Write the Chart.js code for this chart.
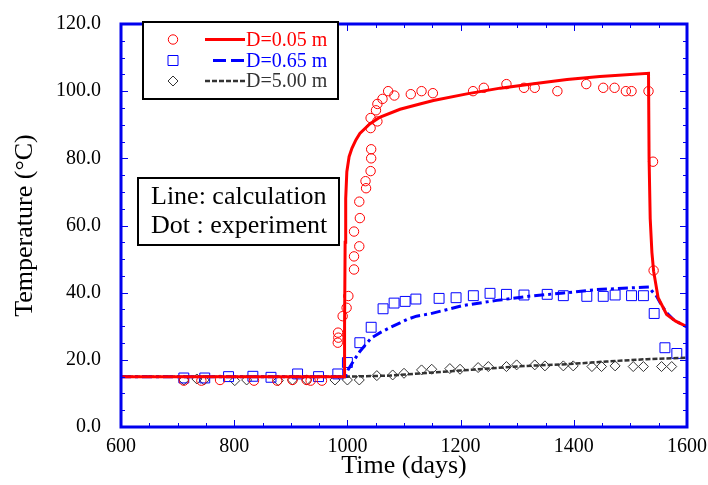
<!DOCTYPE html>
<html>
<head>
<meta charset="utf-8">
<script src="https://cdn.jsdelivr.net/npm/chart.js@4.4.0/dist/chart.umd.min.js"></script>
<style>
  html, body { margin: 0; padding: 0; background: #fff; }
</style>
</head>
<body>
<canvas id="tempChart" width="708" height="485"></canvas>
<script>
// axis ticks
const xTicks = [600, 800, 1000, 1200, 1400, 1600];
const yTicks = [0, 20, 40, 60, 80, 100, 120];

const seriesNames = ['D=0.05 m', 'D=0.65 m', 'D=5.00 m'];
const noteLines = ['Line: calculation', 'Dot : experiment'];

// calculation, D=0.05 m
const calcDays05 = [600, 994, 995, 996, 997, 999, 1003, 1008, 1015, 1022, 1040, 1058, 1093, 1128, 1152, 1211, 1270, 1329, 1388, 1446, 1532, 1533, 1535, 1538, 1541, 1549, 1564, 1580, 1596, 1600];
const calcTemp05 = [15, 15, 30, 55, 68, 76, 80.5, 83, 85.5, 87.4, 90.3, 92.3, 94.6, 96.2, 97.2, 99.2, 100.9, 102.2, 103.5, 104.4, 105.3, 80, 62, 52, 46.4, 38.5, 33.5, 31.5, 30.2, 29.8];

// calculation, D=0.65 m
const calcDays65 = [600, 996, 1001, 1013, 1022, 1031, 1043, 1058, 1075, 1093, 1105, 1122, 1146, 1205, 1264, 1323, 1382, 1440, 1523, 1533, 1538, 1546, 1555, 1564, 1576, 1590, 1600];
const calcTemp65 = [15, 15, 17, 20.2, 22.5, 24.3, 26.6, 28.1, 29.6, 31.0, 32.0, 33.0, 33.7, 36.2, 37.7, 39.0, 39.9, 40.9, 41.6, 41.7, 40.5, 39.0, 36.3, 34.0, 32.0, 30.6, 29.8];

// calculation, D=5.00 m
const calcDays500 = [600, 1000, 1075, 1150, 1200, 1255, 1317, 1388, 1458, 1529, 1600];
const calcTemp500 = [15, 15, 15.3, 16.2, 16.8, 17.5, 18.2, 18.7, 19.5, 20.2, 20.6];

// experiment, D=0.05 m
const expDays05 = [711, 742, 775, 835, 876, 903, 928, 935, 955, 983, 984, 983.5, 991.6, 998.6, 1001.7, 1011.7, 1011.7, 1021, 1011.7, 1022, 1021, 1033, 1032, 1041, 1042, 1042, 1041, 1041, 1053, 1050.5, 1053, 1062, 1072, 1083, 1112, 1131, 1151, 1222, 1241, 1281, 1312, 1331, 1371, 1422, 1452, 1472, 1492, 1502, 1532, 1540, 1541];
const expTemp05 = [13.8, 13.8, 14, 13.8, 13.8, 14, 14, 13.8, 13.8, 25.1, 26.6, 28.1, 33.0, 35.5, 39.0, 46.9, 50.8, 53.8, 58.2, 62.2, 67.1, 71.1, 73.2, 76.2, 80.0, 82.7, 89.0, 92.0, 91.0, 94.3, 96.2, 97.7, 100.0, 98.7, 99.1, 100, 99.4, 100, 101, 102.1, 101, 101, 100, 102.1, 101, 101, 100, 100, 100, 79, 46.6];

// experiment, D=0.65 m
const expDays65 = [711, 748, 790, 833, 865, 912, 949, 983, 1000, 1022, 1042, 1063, 1082.5, 1102, 1121, 1162, 1192, 1222.5, 1252, 1281, 1312, 1353, 1381.5, 1423, 1452, 1473, 1502, 1523, 1542, 1561, 1582];
const expTemp65 = [14.6, 14.6, 15.0, 15.1, 14.8, 15.8, 15.0, 15.8, 19.2, 25.1, 29.7, 35.2, 36.9, 37.4, 38.1, 38.3, 38.5, 39.1, 39.8, 39.5, 39.3, 39.5, 39.1, 38.9, 38.9, 39.3, 39.1, 39.1, 33.8, 23.6, 21.9];

// experiment, D=5.00 m
const expDays500 = [711, 734, 747, 801, 822, 878, 903, 928, 978, 1000, 1021, 1052, 1080, 1100, 1131, 1149, 1181, 1199, 1231, 1249, 1281, 1299, 1331, 1349, 1381.5, 1399, 1432, 1449, 1473, 1505, 1523, 1555, 1573];
const expTemp500 = [14.0, 14.3, 14.0, 13.8, 14.0, 13.8, 14.0, 14.0, 14.0, 14.0, 14.0, 15.3, 15.5, 16.0, 17.0, 17.2, 17.4, 17.2, 17.7, 18.0, 18.0, 18.5, 18.5, 18.2, 18.2, 18.2, 18.0, 18.0, 18.2, 18.0, 18.0, 18.0, 18.0];

const RED = '#ff0000';
const BLUE = '#0000ff';
const DARK = '#333333';
const AXIS_BLUE = '#0000ee';
const SERIF = '"Liberation Serif", "Times New Roman", serif';

function pts(xs, ys) {
    return xs.map((x, i) => ({ x: x, y: ys[i] }));
}

// frame with inward ticks, legend box and note box
const framePlugin = {
    id: 'framePlugin',
    afterDraw(chart) {
        const ctx = chart.ctx;
        const a = chart.chartArea;
        const xs = chart.scales.x;
        const ys = chart.scales.y;
        ctx.save();

        ctx.strokeStyle = AXIS_BLUE;
        ctx.lineWidth = 1;
        ctx.beginPath();
        for (let d = xs.min; d <= xs.max; d += 50) {
            const px = Math.round(xs.getPixelForValue(d)) + 0.5;
            const len = d % 200 === 0 ? 7 : 4;
            ctx.moveTo(px, a.bottom); ctx.lineTo(px, a.bottom - len);
            ctx.moveTo(px, a.top); ctx.lineTo(px, a.top + len);
        }
        for (let t = ys.min; t <= ys.max; t += 5) {
            const py = Math.round(ys.getPixelForValue(t)) + 0.5;
            const len = t % 20 === 0 ? 7 : 4;
            ctx.moveTo(a.left, py); ctx.lineTo(a.left + len, py);
            ctx.moveTo(a.right, py); ctx.lineTo(a.right - len, py);
        }
        ctx.stroke();

        ctx.lineWidth = 3;
        ctx.strokeRect(a.left, a.top, a.right - a.left, a.bottom - a.top);

        // legend
        ctx.fillStyle = '#fff';
        ctx.fillRect(143, 22, 195, 77);
        ctx.strokeStyle = '#000';
        ctx.lineWidth = 2;
        ctx.strokeRect(143, 22, 195, 77);

        const rows = [39.5, 60.5, 81];
        const colors = [RED, BLUE, DARK];
        const dashes = [[], [13, 5], [5, 2]];
        ctx.font = '20px ' + SERIF;
        ctx.textBaseline = 'middle';
        ctx.textAlign = 'left';
        rows.forEach((y, i) => {
            const mx = 173;
            ctx.lineWidth = 1;
            ctx.strokeStyle = colors[i];
            ctx.setLineDash([]);
            ctx.beginPath();
            if (i === 0) {
                ctx.arc(mx, y, 4.7, 0, Math.PI * 2);
            } else if (i === 1) {
                ctx.rect(mx - 5, y - 5, 10, 10);
            } else {
                ctx.moveTo(mx, y - 5); ctx.lineTo(mx + 5, y);
                ctx.lineTo(mx, y + 5); ctx.lineTo(mx - 5, y);
                ctx.closePath();
            }
            ctx.stroke();

            ctx.lineWidth = i === 2 ? 2.5 : 3;
            ctx.setLineDash(dashes[i]);
            ctx.beginPath();
            ctx.moveTo(i === 1 ? 213 : 205, y);
            ctx.lineTo(245, y);
            ctx.stroke();
            ctx.setLineDash([]);

            ctx.fillStyle = colors[i];
            ctx.fillText(seriesNames[i], 246, y + 1);
        });

        // note box
        ctx.fillStyle = '#fff';
        ctx.fillRect(138, 178, 201, 67);
        ctx.strokeStyle = '#000';
        ctx.lineWidth = 2;
        ctx.strokeRect(138, 178, 201, 67);
        ctx.fillStyle = '#000';
        ctx.font = '26px ' + SERIF;
        ctx.fillText(noteLines[0], 151, 197);
        ctx.fillText(noteLines[1], 151, 226);

        ctx.restore();
    }
};

new Chart(document.getElementById('tempChart'), {
    type: 'scatter',
    data: {
        datasets: [{
            label: seriesNames[0] + ' calc',
            data: pts(calcDays05, calcTemp05),
            showLine: true,
            borderColor: RED,
            borderWidth: 3,
            pointRadius: 0,
            tension: 0
        }, {
            label: seriesNames[1] + ' calc',
            data: pts(calcDays65, calcTemp65),
            showLine: true,
            borderColor: BLUE,
            borderWidth: 3,
            borderDash: [10, 4, 3, 4],
            pointRadius: 0,
            tension: 0
        }, {
            label: seriesNames[2] + ' calc',
            data: pts(calcDays500, calcTemp500),
            showLine: true,
            borderColor: DARK,
            borderWidth: 2.5,
            borderDash: [5, 2],
            pointRadius: 0,
            tension: 0
        }, {
            label: seriesNames[0],
            data: pts(expDays05, expTemp05),
            pointStyle: 'circle',
            pointRadius: 4.7,
            borderColor: RED,
            backgroundColor: 'rgba(0,0,0,0)',
            borderWidth: 1
        }, {
            label: seriesNames[1],
            data: pts(expDays65, expTemp65),
            pointStyle: 'rect',
            pointRadius: 7,
            borderColor: BLUE,
            backgroundColor: 'rgba(0,0,0,0)',
            borderWidth: 1
        }, {
            label: seriesNames[2],
            data: pts(expDays500, expTemp500),
            pointStyle: 'rectRot',
            pointRadius: 5,
            borderColor: DARK,
            backgroundColor: 'rgba(0,0,0,0)',
            borderWidth: 1
        }]
    },
    options: {
        responsive: false,
        animation: false,
        devicePixelRatio: 1,
        layout: { padding: { top: 21, right: 21, left: 0, bottom: 0 } },
        plugins: {
            legend: { display: false },
            tooltip: { enabled: false }
        },
        scales: {
            x: {
                type: 'linear',
                min: 600,
                max: 1600,
                afterBuildTicks: s => { s.ticks = xTicks.map(v => ({ value: v })); },
                afterFit: s => { s.height = 58; },
                grid: { display: false },
                border: { display: false },
                ticks: {
                    color: '#000',
                    padding: 0,
                    maxRotation: 0,
                    font: { family: SERIF, size: 20 },
                    callback: v => String(v)
                },
                title: {
                    display: true,
                    text: 'Time (days)',
                    color: '#000',
                    font: { family: SERIF, size: 26 },
                    padding: { top: 0, bottom: 3 }
                }
            },
            y: {
                min: 0,
                max: 120,
                afterBuildTicks: s => { s.ticks = yTicks.map(v => ({ value: v })); },
                afterFit: s => { s.width = 121; },
                grid: { display: false },
                border: { display: false },
                ticks: {
                    color: '#000',
                    padding: 12,
                    font: { family: SERIF, size: 20 },
                    callback: v => Number(v).toFixed(1)
                },
                title: {
                    display: true,
                    text: 'Temperature (°C)',
                    color: '#000',
                    font: { family: SERIF, size: 26 },
                    padding: { top: 10, bottom: 0 }
                }
            }
        }
    },
    plugins: [framePlugin]
});
</script>
</body>
</html>
